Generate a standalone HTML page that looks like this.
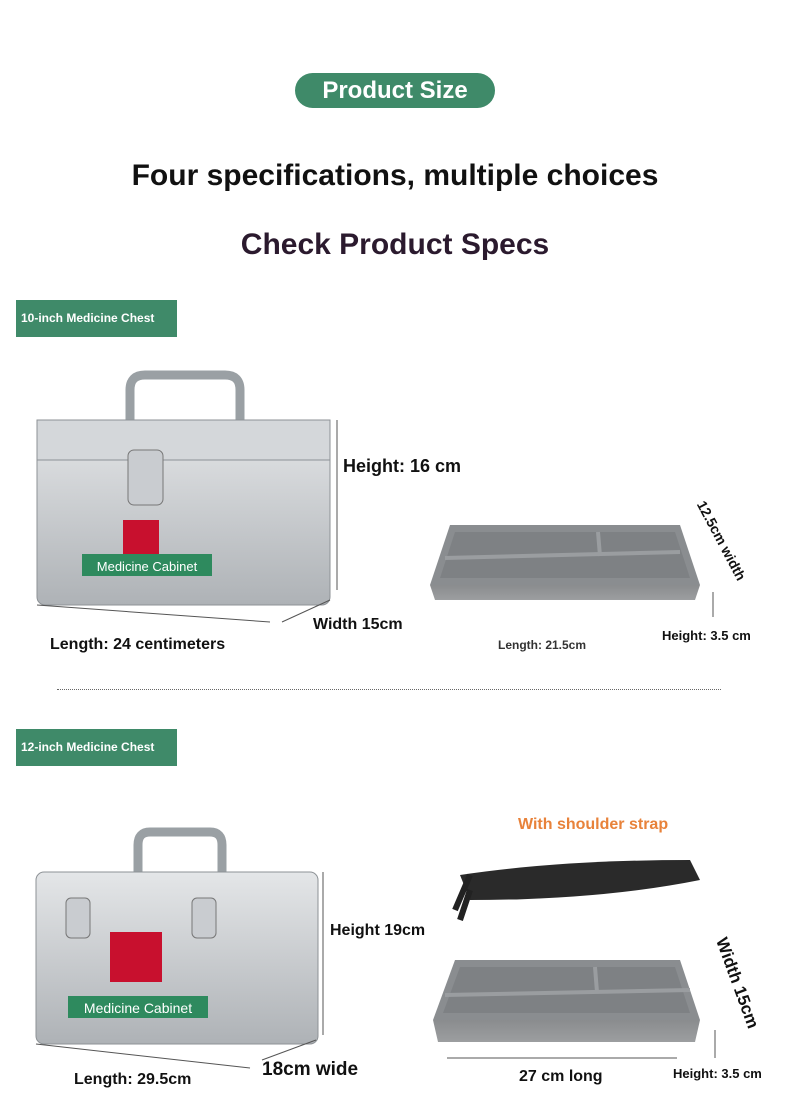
<!DOCTYPE html>
<html><head><meta charset="utf-8"><style>
body{margin:0;background:#fff;}
#p{position:relative;width:790px;height:1114px;overflow:hidden;font-family:"Liberation Sans",sans-serif;font-weight:bold;}
.a{position:absolute;}
.pill{left:295px;top:73px;width:200px;height:35px;border-radius:18px;background:#3f8a69;color:#fff;font-size:24px;text-align:center;line-height:35px;}
.lab{background:#3f8a69;color:#fff;font-size:12px;line-height:37px;padding-left:5px;width:156px;height:37px;}
.t{color:#111;white-space:nowrap;}
</style></head><body><div id="p">
<div class="a pill">Product Size</div>
<div class="a t" style="left:0;width:790px;text-align:center;top:159px;font-size:30px;">Four specifications, multiple choices</div>
<div class="a t" style="left:0;width:790px;text-align:center;top:228px;font-size:30px;color:#2b1a2e;">Check Product Specs</div>
<div class="a lab" style="left:16px;top:300px;">10-inch Medicine Chest</div>

<svg class="a" style="left:0;top:360px" width="790" height="300">
<defs><linearGradient id="g" x1="0" y1="0" x2="0" y2="1"><stop offset="0" stop-color="#e4e6e8"/><stop offset="1" stop-color="#aeb2b6"/></linearGradient>
<linearGradient id="tr" x1="0" y1="0" x2="0" y2="1"><stop offset="0" stop-color="#8a8c8e"/><stop offset="1" stop-color="#9c9ea0"/></linearGradient></defs>
<path d="M130 62 L130 30 Q130 15 145 15 L225 15 Q240 15 240 30 L240 62" stroke="#9aa0a4" stroke-width="9" fill="none"/>
<rect x="37" y="60" width="293" height="185" rx="8" fill="url(#g)" stroke="#8d9296"/>
<rect x="37" y="60" width="293" height="40" fill="#d4d7da" stroke="#8d9296"/>
<rect x="128" y="90" width="35" height="55" rx="6" fill="#c9ccd0" stroke="#777"/>
<rect x="123" y="160" width="36" height="36" fill="#c8102e"/>
<rect x="82" y="194" width="130" height="22" fill="#2e8a5e"/>
<text x="147" y="211" font-size="13" fill="#fff" text-anchor="middle" font-weight="normal">Medicine Cabinet</text>
<line x1="337" y1="60" x2="337" y2="230" stroke="#555"/>
<line x1="37" y1="245" x2="270" y2="262" stroke="#555"/>
<line x1="282" y1="262" x2="330" y2="240" stroke="#555"/>
<path d="M450 165 L680 165 L700 225 L430 225 Z" fill="#8a8d90"/>
<path d="M455 172 L675 172 L690 218 L440 218 Z" fill="#7e8184"/>
<line x1="445" y1="198" x2="680" y2="192" stroke="#9a9da0" stroke-width="4"/>
<line x1="598" y1="172" x2="600" y2="196" stroke="#9a9da0" stroke-width="4"/>
<path d="M430 225 L700 225 L695 240 L435 240 Z" fill="url(#tr)"/>
<line x1="713" y1="232" x2="713" y2="257" stroke="#555"/>
</svg>
<div class="a t" style="left:343px;top:456px;font-size:18px;">Height: 16 cm</div>
<div class="a t" style="left:50px;top:636px;font-size:16px;">Length: 24 centimeters</div>
<div class="a t" style="left:313px;top:616px;font-size:16px;">Width 15cm</div>
<div class="a t" style="left:498px;top:638px;font-size:12px;color:#333;">Length: 21.5cm</div>
<div class="a t" style="left:662px;top:628px;font-size:13px;">Height: 3.5 cm</div>
<div class="a t" style="font-size:14px;transform:rotate(62deg);transform-origin:0 0;left:708px;top:498px;">12.5cm width</div>
<div class="a" style="left:57px;top:689px;width:664px;border-top:1px dotted #666;"></div>

<div class="a lab" style="left:16px;top:729px;">12-inch Medicine Chest</div>
<svg class="a" style="left:0;top:820px" width="790" height="294">
<path d="M138 52 L138 25 Q138 12 150 12 L210 12 Q222 12 222 25 L222 52" stroke="#9aa0a4" stroke-width="9" fill="none"/>
<rect x="36" y="52" width="282" height="172" rx="8" fill="url(#g)" stroke="#8d9296"/>
<rect x="66" y="78" width="24" height="40" rx="5" fill="#c9ccd0" stroke="#777"/>
<rect x="192" y="78" width="24" height="40" rx="5" fill="#c9ccd0" stroke="#777"/>
<rect x="110" y="112" width="52" height="50" fill="#c8102e"/>
<rect x="68" y="176" width="140" height="22" fill="#2e8a5e"/>
<text x="138" y="193" font-size="14" fill="#fff" text-anchor="middle" font-weight="normal">Medicine Cabinet</text>
<line x1="323" y1="52" x2="323" y2="215" stroke="#555"/>
<line x1="36" y1="224" x2="250" y2="248" stroke="#555"/>
<line x1="262" y1="240" x2="316" y2="220" stroke="#555"/>
<path d="M460 55 Q560 40 690 40 L700 60 Q600 80 470 80 Z" fill="#2a2a2a"/>
<path d="M470 55 L455 90 M470 70 L460 100" stroke="#222" stroke-width="6"/>
<path d="M455 140 L680 140 L700 200 L433 200 Z" fill="#8a8d90"/>
<path d="M460 147 L675 147 L690 193 L443 193 Z" fill="#7e8184"/>
<line x1="445" y1="175" x2="690" y2="170" stroke="#9a9da0" stroke-width="4"/>
<line x1="595" y1="147" x2="597" y2="172" stroke="#9a9da0" stroke-width="4"/>
<path d="M433 200 L700 200 L695 222 L438 222 Z" fill="url(#tr)"/>
<line x1="447" y1="238" x2="677" y2="238" stroke="#555"/>
<line x1="715" y1="210" x2="715" y2="238" stroke="#555"/>
</svg>
<div class="a t" style="left:518px;top:816px;font-size:16px;color:#e8823a;">With shoulder strap</div>
<div class="a t" style="left:330px;top:922px;font-size:16px;">Height 19cm</div>
<div class="a t" style="left:74px;top:1071px;font-size:16px;">Length: 29.5cm</div>
<div class="a t" style="left:262px;top:1059px;font-size:19px;">18cm wide</div>
<div class="a t" style="left:519px;top:1068px;font-size:16px;">27 cm long</div>
<div class="a t" style="left:673px;top:1066px;font-size:13px;">Height: 3.5 cm</div>
<div class="a t" style="left:730px;top:935px;font-size:17px;transform:rotate(70deg);transform-origin:0 0;">Width 15cm</div>
</div></body></html>
